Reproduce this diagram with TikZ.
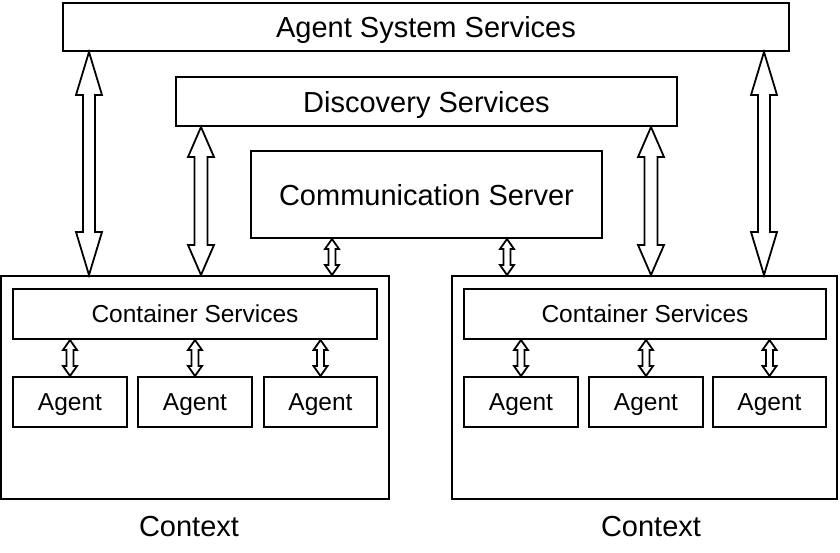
\documentclass[tikz,border=0pt]{standalone}
\usepackage{fontspec}
\setmainfont{Liberation Sans}
\usetikzlibrary{calc}
\tikzset{
  box/.style={draw, line width=2pt, inner sep=0pt, fill=white, text depth=0pt},
  bigtxt/.style={font=\fontsize{29}{34}\selectfont},
  smalltxt/.style={font=\fontsize{24.5}{29}\selectfont},
  arrline/.style={draw, line width=1.8pt, fill=white, line join=miter, miter limit=6},
}
% #1 top point, #2 bottom point, #3 half shaft, #4 half head, #5 head length
\newcommand\dblarr[5]{%
  \path[arrline] let \p1=#1, \p2=#2 in
   (\x1,\y1) -- ({\x1+#4pt},{\y1-#5pt}) -- ({\x1+#3pt},{\y1-#5pt})
   -- ({\x1+#3pt},{\y2+#5pt}) -- ({\x1+#4pt},{\y2+#5pt}) -- (\x1,\y2)
   -- ({\x1-#4pt},{\y2+#5pt}) -- ({\x1-#3pt},{\y2+#5pt})
   -- ({\x1-#3pt},{\y1-#5pt}) -- ({\x1-#4pt},{\y1-#5pt}) -- cycle;}
\newcommand\boxnode[7]{% name, x1, y1, x2, y2, style, text
  \node[box,#6, minimum width={(#4-#2)*1pt}, minimum height={(#5-#3)*1pt}]
   (#1) at ({(#2+#4)/2},{(#3+#5)/2}) {#7};}
\begin{document}
\begin{tikzpicture}[x=1pt,y=-1pt]
\useasboundingbox (0,0) rectangle (840,552);
\boxnode{ass}{63}{3}{789}{51}{bigtxt}{Agent System Services}
\boxnode{dis}{176}{77}{677}{126}{bigtxt}{Discovery Services}
\boxnode{com}{251}{151}{602}{238}{bigtxt}{Communication Server}
\boxnode{ctxL}{1}{276}{389}{499}{}{}
\boxnode{ctxR}{452}{276}{837}{499}{}{}
\boxnode{csL}{13}{289}{377}{339}{smalltxt}{Container Services}
\boxnode{csR}{464}{289}{826}{339}{smalltxt}{Container Services}
\boxnode{agL1}{13}{377}{127}{427}{smalltxt}{Agent}
\boxnode{agL2}{138}{377}{252}{427}{smalltxt}{Agent}
\boxnode{agL3}{264}{377}{377}{427}{smalltxt}{Agent}
\boxnode{agR1}{464}{377}{578}{427}{smalltxt}{Agent}
\boxnode{agR2}{589}{377}{703}{427}{smalltxt}{Agent}
\boxnode{agR3}{713}{377}{826}{427}{smalltxt}{Agent}
\node[bigtxt] (lblL) at (189,527) {Context};
\node[bigtxt] (lblR) at (651,527) {Context};
% big arrows
\dblarr{(89,0 |- ass.south)}{(89,0 |- ctxL.north)}{6}{13}{43}
\dblarr{(764,0 |- ass.south)}{(764,0 |- ctxR.north)}{6}{13}{43}
\dblarr{(201,0 |- dis.south)}{(201,0 |- ctxL.north)}{6.5}{13}{30}
\dblarr{(651,0 |- dis.south)}{(651,0 |- ctxR.north)}{6.5}{13}{30}
% communication arrows
\dblarr{(332,0 |- com.south)}{(332,0 |- ctxL.north)}{3.5}{7}{10}
\dblarr{(507,0 |- com.south)}{(507,0 |- ctxR.north)}{3.5}{7}{10}
% container to agents
\foreach \a/\c in {agL1/csL,agL2/csL,agL3/csL,agR1/csR,agR2/csR,agR3/csR}{
  \dblarr{(\a.north |- \c.south)}{(\a.north)}{3.5}{7}{10}
}
\end{tikzpicture}
\end{document}
